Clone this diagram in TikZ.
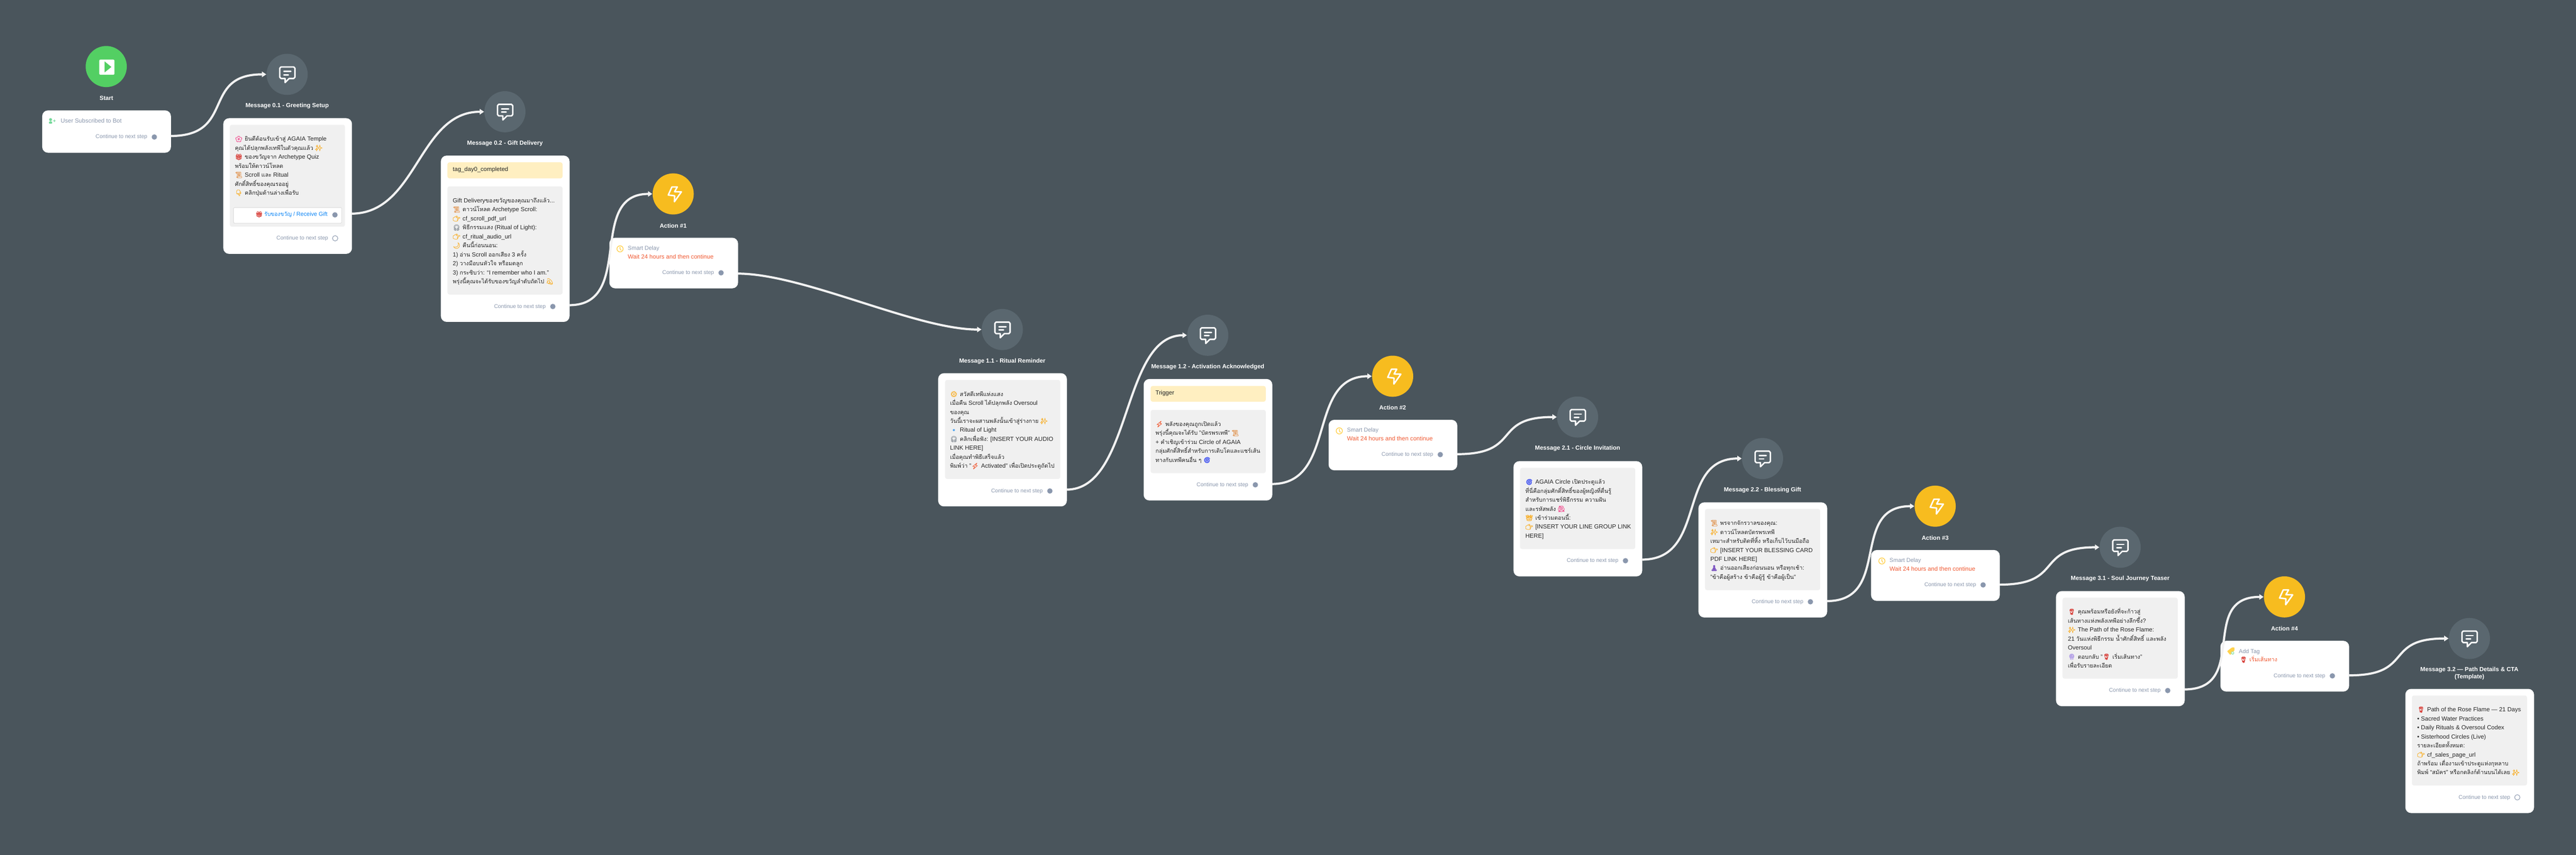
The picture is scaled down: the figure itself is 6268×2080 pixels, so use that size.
\documentclass[tikz,border=0pt]{standalone}
\usepackage{fontspec}
\setmainfont{Liberation Sans}
\newfontfamily\thaifont[Script=Thai,Scale=0.95]{Loma}
\newfontfamily\emofont[FakeBold=2]{Noto Emoji}
\usetikzlibrary{arrows.meta}
\definecolor{bgcol}{HTML}{4A555C}
\definecolor{msgcol}{HTML}{5A676F}
\definecolor{actcol}{HTML}{F7BC1F}
\definecolor{startcol}{HTML}{53CF63}
\definecolor{flowcol}{HTML}{F2F2F2}
\definecolor{boxcol}{HTML}{F0F0F0}
\definecolor{tagcol}{HTML}{FFEFC1}
\definecolor{mutecol}{HTML}{8A97AD}
\definecolor{redcol}{HTML}{F05A33}
\definecolor{linkcol}{HTML}{0A84F5}
\definecolor{clockcol}{HTML}{FFC92E}
\definecolor{emopink}{HTML}{F0609A}
\definecolor{emogold}{HTML}{F8B02C}
\definecolor{emored}{HTML}{D8403A}
\definecolor{emotan}{HTML}{E3A46C}
\definecolor{emogrey}{HTML}{9AA0A6}
\definecolor{emoblue}{HTML}{4DA3F0}
\definecolor{emoind}{HTML}{4B5CF0}
\definecolor{emolil}{HTML}{B9A7E8}
\definecolor{emopur}{HTML}{7E57C2}
\newcommand{\thai}[1]{{\thaifont #1}}
\newcommand{\emo}[2]{\makebox[6.83pt][l]{\textcolor{#1}{\emofont #2}}}
% one "Continue to next step" row of a card
\newcommand{\nextrow}[4][dotfull]{%
  \node[nextlabel] (#2next) at (#3,#4) {Continue to next step};
  \node[#1] (#2dot) at ([xshift=0.165cm]#2next.east) {};}
\tikzset{
  msgnode/.style={circle,fill=msgcol,minimum size=1cm,inner sep=0pt},
  actnode/.style={circle,fill=actcol,minimum size=1cm,inner sep=0pt},
  startnode/.style={circle,fill=startcol,minimum size=1cm,inner sep=0pt},
  steplabel/.style={font=\fontsize{4.13}{4.7}\selectfont\bfseries,text=white,align=center,inner sep=0pt},
  card/.style={fill=white,rounded corners=0.14cm,minimum width=3.13cm,anchor=north west,inner sep=0pt},
  greybox/.style={fill=boxcol,rounded corners=0.05cm,minimum width=2.8cm,anchor=north west,inner sep=0pt},
  yellowbox/.style={fill=tagcol,rounded corners=0.05cm,minimum width=2.8cm,anchor=north west,inner sep=0pt},
  bodytext/.style={font=\fontsize{4.13}{6.22}\selectfont,text=black!85,align=left,anchor=north west,inner sep=0pt},
  tagtext/.style={font=\fontsize{4.13}{6.22}\selectfont,text=black!85,anchor=west,inner sep=0pt,text height=3pt,text depth=1pt},
  nextlabel/.style={font=\fontsize{3.78}{5}\selectfont,text=mutecol,anchor=east,inner sep=0pt,text height=2.9pt,text depth=0.8pt},
  mutetext/.style={font=\fontsize{3.95}{5}\selectfont,text=mutecol,anchor=west,inner sep=0pt,text height=3pt,text depth=0.9pt},
  redtext/.style={font=\fontsize{4.13}{5}\selectfont,text=redcol,anchor=west,inner sep=0pt,text height=3pt,text depth=0.9pt},
  dotfull/.style={circle,fill=mutecol,minimum size=0.13cm,inner sep=0pt},
  dotopen/.style={circle,draw=mutecol,fill=white,line width=0.35pt,minimum size=0.13cm,inner sep=0pt},
  flow/.style={draw=flowcol,line width=1.5pt,->},
  chatico/.pic={
    \draw[white,line width=1pt,line join=round] (-15,-18) -- (16,-18) to[out=0,in=-90] (19,-15) -- (19,7) to[out=90,in=0] (16,10)
      -- (5,10) -- (-5,20) -- (-5,10) -- (-15,10) to[out=180,in=90] (-18,7) -- (-18,-15) to[out=-90,in=180] cycle;
    \draw[white,line width=1pt,line cap=round] (-8,-7) -- (9,-7) (-8,1) -- (3,1);},
  boltico/.pic={
    \draw[white,line width=1pt,line join=round] (-3,-17) -- (10,-17) -- (3.5,-5.5) -- (20,-5) -- (3,19) -- (3.5,4.5) -- (-12,2.7) -- cycle;},
  playico/.pic={
    \fill[white,rounded corners=0.03cm] (-17,-17) rectangle (20,20);
    \fill[startcol] (-4,-12.5) -- (12.6,1) -- (-4,14.3) -- cycle;},
  clockico/.pic={
    \draw[clockcol,line width=0.4pt] (0,0) circle (7.5);
    \draw[clockcol,line width=0.4pt,line cap=round] (0,-4.5) -- (0,0) -- (2.8,3.5);},
  userico/.pic={
    \fill[green!45!teal!55] (-4.5,-3) circle (3.6);
    \fill[green!45!teal!55,rounded corners=0.015cm] (-8.5,7) -- (-8.5,3) -- (-6,1) -- (-3,1) -- (-0.5,3) -- (-0.5,7) -- cycle;
    \draw[green!45!teal!55,line width=0.35pt] (2,0) -- (8,0) (5,-3) -- (5,3);},
  tagico/.pic={
    \fill[orange!50!yellow!70,rounded corners=0.012cm] (-9.5,0) -- (2,-9) -- (8.5,-9) -- (8.5,-2) -- (-2,9) -- cycle;
    \fill[green!50!teal!35] (4,4.4) circle (4);
    \draw[white,line width=0.3pt] (2,4.4) -- (6,4.4) (4,2.4) -- (4,6.4);},
}
\begin{document}
\begin{tikzpicture}[x=0.01cm,y=-0.01cm,>={Triangle[length=3pt,width=3.7pt]}]
	\useasboundingbox (0,0) rectangle (6268,2080);
	\fill[bgcol] (-5,-5) rectangle (6273,2085);
	% Start
	\node[startnode] (start) at (258.5,162) {};
	\pic at (start) {playico};
	\node[steplabel] (startlabel) at (259,239) {Start};
	\node[card,minimum height=1.03cm] (startcard) at (102,268) {};
	\pic at (127.5,294) {userico};
	\node[mutetext,font=\fontsize{4.1}{5}\selectfont] (starttext) at (147,295) {User Subscribed to Bot};
	\nextrow{start}{359}{333.5}
	\coordinate (startout) at (415,331);
	% Message 0.1
	\node[msgnode] (msga) at (698.7,181) {};
	\pic at (msga) {chatico};
	\node[steplabel] (msgalabel) at (698.7,258) {Message 0.1 - Greeting Setup};
	\node[card,minimum height=3.3cm] (msgacard) at (542.6,287) {};
	\node[greybox,minimum height=2.48cm] (msgabox) at (558.6,303) {};
	\node[bodytext] (msgatext) at (571,327.25) {\strut\emo{emopink}{🌸}\thai{ยินดีต้อนรับเข้าสู่} AGAIA Temple\\
		\thai{คุณได้ปลุกพลังเทพีในตัวคุณแล้ว} \emo{emogold}{✨}\\
		\emo{emored}{🎁}\thai{ของขวัญจาก} Archetype Quiz\\
		\thai{พร้อมให้ดาวน์โหลด}\\
		\emo{emotan}{📜}Scroll \thai{และ} Ritual\\
		\thai{ศักดิ์สิทธิ์ของคุณรออยู่}\\
		\emo{emogold}{👇}\thai{คลิกปุ่มด้านล่างเพื่อรับ}};
	\node[fill=white,draw=black!12,line width=0.4pt,rounded corners=0.02cm,minimum width=2.63cm,minimum height=0.38cm,anchor=north west,inner sep=0pt] (msgabtn) at (567.5,504.5) {};
	\node[tagtext,text=linkcol,font=\fontsize{3.95}{5}\selectfont] (msgabtntext) at (621,523) {\emo{emored}{🎁}\hspace{-0.7pt}\thai{รับของขวัญ} / Receive Gift};
	\node[dotfull] (msgabtndot) at (815,523) {};
	\nextrow[dotopen]{msga}{799}{580}
	\coordinate (msgaout) at (855,520);
	% Message 0.2
	\node[msgnode] (msgb) at (1228.6,272) {};
	\pic at (msgb) {chatico};
	\node[steplabel] (msgblabel) at (1228.6,349) {Message 0.2 - Gift Delivery};
	\node[card,minimum height=4.045cm] (msgbcard) at (1072,378) {};
	\node[yellowbox,minimum height=0.39cm] (msgbtag) at (1088,394.4) {};
	\node[tagtext] (msgbtagtext) at (1101,413.5) {tag\_day0\_completed};
	\node[greybox,minimum height=2.63cm] (msgbbox) at (1088,453) {};
	\node[bodytext] (msgbtext) at (1101,477.25) {\strut Gift Delivery\thai{ของขวัญของคุณมาถึงแล้ว}...\\
		\emo{emotan}{📜}\thai{ดาวน์โหลด} Archetype Scroll:\\
		\emo{emogold}{👉}cf\_scroll\_pdf\_url\\
		\emo{emogrey}{🎧}\thai{พิธีกรรมแสง} (Ritual of Light):\\
		\emo{emogold}{👉}cf\_ritual\_audio\_url\\
		\emo{emogold}{🌙}\thai{คืนนี้ก่อนนอน}:\\
		1) \thai{อ่าน} Scroll \thai{ออกเสียง} 3 \thai{ครั้ง}\\
		2) \thai{วางมือบนหัวใจ หรือมดลูก}\\
		3) \thai{กระซิบว่า}: “I remember who I am.”\\
		\thai{พรุ่งนี้คุณจะได้รับของขวัญลำดับถัดไป} \emo{emogold}{💫}};
	\nextrow{msgb}{1328.6}{746}
	\coordinate (msgbout) at (1385.7,742.7);
	% Action #1
	\node[actnode] (acta) at (1638,472) {};
	\pic at (acta) {boltico};
	\node[steplabel] (actalabel) at (1638,549) {Action \#1};
	\node[card,minimum height=1.23cm] (actacard) at (1482,578) {};
	\pic at (1508.7,605.7) {clockico};
	\node[mutetext] (actadelay) at (1527,605) {Smart Delay};
	\node[redtext] (actawait) at (1527,626) {Wait 24 hours and then continue};
	\nextrow{acta}{1738}{664}
	\coordinate (actaout) at (1795,666);
	% Message 1.1
	\node[msgnode] (msgc) at (2438.8,802) {};
	\pic at (msgc) {chatico};
	\node[steplabel] (msgclabel) at (2438.8,879) {Message 1.1 - Ritual Reminder};
	\node[card,minimum height=3.24cm] (msgccard) at (2282,907.7) {};
	\node[greybox,minimum height=2.41cm] (msgcbox) at (2299,924) {};
	\node[bodytext] (msgctext) at (2311,948.25) {\strut\emo{emogold}{🌞}\thai{สวัสดีเทพีแห่งแสง}\\
		\thai{เมื่อคืน} Scroll \thai{ได้ปลุกพลัง} Oversoul\\
		\thai{ของคุณ}\\
		\thai{วันนี้เราจะผสานพลังนั้นเข้าสู่ร่างกาย} \emo{emogold}{✨}\\
		\emo{emoblue}{🔹}Ritual of Light\\
		\emo{emogrey}{🎧}\thai{คลิกเพื่อฟัง}: [INSERT YOUR AUDIO\\
		LINK HERE]\\
		\thai{เมื่อคุณทำพิธีเสร็จแล้ว}\\
		\thai{พิมพ์ว่า} "\emo{redcol}{⚡}Activated" \thai{เพื่อเปิดประตูถัดไป}};
	\nextrow{msgc}{2538}{1195}
	\coordinate (msgcout) at (2595,1191.7);
	% Message 1.2
	\node[msgnode] (msgd) at (2938.8,816) {};
	\pic at (msgd) {chatico};
	\node[steplabel] (msgdlabel) at (2938.8,893) {Message 1.2 - Activation Acknowledged};
	\node[card,minimum height=2.956cm] (msgdcard) at (2782,921.7) {};
	\node[yellowbox,minimum height=0.383cm] (msgdtag) at (2799,938.7) {};
	\node[tagtext] (msgdtagtext) at (2811,957.7) {Trigger};
	\node[greybox,minimum height=1.537cm] (msgdbox) at (2799,997) {};
	\node[bodytext] (msgdtext) at (2811,1021.25) {\strut\emo{redcol}{⚡}\thai{พลังของคุณถูกเปิดแล้ว}\\
		\thai{พรุ่งนี้คุณจะได้รับ} "\thai{บัตรพรเทพี}" \emo{emotan}{📜}\\
		+ \thai{คำเชิญเข้าร่วม} Circle of AGAIA\\
		\thai{กลุ่มศักดิ์สิทธิ์สำหรับการเติบโตและแชร์เส้น}\\
		\thai{ทางกับเทพีคนอื่น ๆ} \emo{emoind}{🌀}};
	\nextrow{msgd}{3038}{1180}
	\coordinate (msgdout) at (3095,1178);
	% Action #2
	\node[actnode] (actb) at (3388.6,915.7) {};
	\pic at (actb) {boltico};
	\node[steplabel] (actblabel) at (3388.6,992) {Action \#2};
	\node[card,minimum height=1.23cm] (actbcard) at (3232,1021) {};
	\pic at (3258.8,1048.7) {clockico};
	\node[mutetext] (actbdelay) at (3277,1048) {Smart Delay};
	\node[redtext] (actbwait) at (3277,1069) {Wait 24 hours and then continue};
	\nextrow{actb}{3488}{1106.4}
	\coordinate (actbout) at (3545,1105.4);
	% Message 2.1
	\node[msgnode] (msge) at (3838.6,1015) {};
	\pic at (msge) {chatico};
	\node[steplabel] (msgelabel) at (3838.6,1091.8) {Message 2.1 - Circle Invitation};
	\node[card,minimum height=2.803cm] (msgecard) at (3682,1121.7) {};
	\node[greybox,minimum height=1.977cm] (msgebox) at (3698,1138) {};
	\node[bodytext] (msgetext) at (3711,1162) {\strut\emo{emoind}{🌀}AGAIA Circle \thai{เปิดประตูแล้ว}\\
		\thai{ที่นี่คือกลุ่มศักดิ์สิทธิ์ของผู้หญิงที่ตื่นรู้}\\
		\thai{สำหรับการแชร์พิธีกรรม ความฝัน}\\
		\thai{และรหัสพลัง} \emo{emopink}{🌺}\\
		\emo{emogold}{👑}\thai{เข้าร่วมตอนนี้}:\\
		\emo{emogold}{👉}[INSERT YOUR LINE GROUP LINK\\
		HERE]};
	\nextrow{msge}{3938.6}{1364.7}
	\coordinate (msgeout) at (3995.7,1362);
	% Message 2.2
	\node[msgnode] (msgf) at (4288.6,1116) {};
	\pic at (msgf) {chatico};
	\node[steplabel] (msgflabel) at (4288.6,1193) {Message 2.2 - Blessing Gift};
	\node[card,minimum height=2.8cm] (msgfcard) at (4132,1222) {};
	\node[greybox,minimum height=1.977cm] (msgfbox) at (4148,1238) {};
	\node[bodytext] (msgftext) at (4161,1262.25) {\strut\emo{emotan}{📜}\thai{พรจากจักรวาลของคุณ}:\\
		\emo{emogold}{✨}\thai{ดาวน์โหลดบัตรพรเทพี}\\
		\thai{เหมาะสำหรับติดที่หิ้ง หรือเก็บไว้บนมือถือ}\\
		\emo{emogold}{👉}[INSERT YOUR BLESSING CARD\\
		PDF LINK HERE]\\
		\emo{emopur}{🧘}\thai{อ่านออกเสียงก่อนนอน หรือทุกเช้า}:\\
		"\thai{ข้าคือผู้สร้าง ข้าคือผู้รู้ ข้าคือผู้เป็น}"};
	\nextrow{msgf}{4388.6}{1464.7}
	\coordinate (msgfout) at (4445,1463);
	% Action #3
	\node[actnode] (actc) at (4708.7,1232) {};
	\pic at (actc) {boltico};
	\node[steplabel] (actclabel) at (4708.7,1309) {Action \#3};
	\node[card,minimum height=1.238cm] (actccard) at (4552,1338) {};
	\pic at (4579,1365.4) {clockico};
	\node[mutetext] (actcdelay) at (4597,1365) {Smart Delay};
	\node[redtext] (actcwait) at (4597,1386) {Wait 24 hours and then continue};
	\nextrow{actc}{4808.8}{1423.6}
	\coordinate (actcout) at (4865,1423);
	% Message 3.1
	\node[msgnode] (msgg) at (5158.8,1332) {};
	\pic at (msgg) {chatico};
	\node[steplabel] (msgglabel) at (5158.8,1409) {Message 3.1 - Soul Journey Teaser};
	\node[card,minimum height=2.8cm] (msggcard) at (5002,1438) {};
	\node[greybox,minimum height=1.97cm] (msggbox) at (5018,1454) {};
	\node[bodytext] (msggtext) at (5031,1478.25) {\strut\emo{emored}{🌹}\thai{คุณพร้อมหรือยังที่จะก้าวสู่}\\
		\thai{เส้นทางแห่งพลังเทพีอย่างลึกซึ้ง}?\\
		\emo{emogold}{✨}The Path of the Rose Flame:\\
		21 \thai{วันแห่งพิธีกรรม น้ำศักดิ์สิทธิ์ และพลัง}\\
		Oversoul\\
		\emo{emolil}{🔮}\thai{ตอบกลับ} "\emo{emored}{🌹}\thai{เริ่มเส้นทาง}"\\
		\thai{เพื่อรับรายละเอียด}};
	\nextrow{msgg}{5258}{1680.7}
	\coordinate (msggout) at (5315,1678);
	% Action #4
	\node[actnode] (actd) at (5558.6,1452.8) {};
	\pic at (actd) {boltico};
	\node[steplabel] (actdlabel) at (5558.6,1530) {Action \#4};
	\node[card,minimum height=1.234cm] (actdcard) at (5402,1559) {};
	\pic at (5428.5,1585) {tagico};
	\node[mutetext] (actdadd) at (5447,1586) {Add Tag};
	\node[redtext] (actdtag) at (5449,1607) {\emo{emored}{🌹}\thai{เริ่มเส้นทาง}};
	\nextrow{actd}{5658.6}{1645}
	\coordinate (actdout) at (5715.7,1643.8);
	% Message 3.2
	\node[msgnode] (msgh) at (6008.6,1554) {};
	\pic at (msgh) {chatico};
	\node[steplabel] (msghlabel) at (6008.6,1639) {Message 3.2 — Path Details \& CTA\\(Template)};
	\node[card,minimum height=3.02cm] (msghcard) at (5852,1676) {};
	\node[greybox,minimum height=2.19cm] (msghbox) at (5868,1692) {};
	\node[bodytext] (msghtext) at (5881,1716.25) {\strut\emo{emored}{🌹}Path of the Rose Flame — 21 Days\\
		• Sacred Water Practices\\
		• Daily Rituals \& Oversoul Codex\\
		• Sisterhood Circles (Live)\\
		\thai{รายละเอียดทั้งหมด}:\\
		\emo{emogold}{👉}cf\_sales\_page\_url\\
		\thai{ถ้าพร้อม เดื่องามเข้าประตูแห่งกุหลาบ}\\
		\thai{พิมพ์} “\thai{สมัคร}” \thai{หรือกดลิงก์ด้านบนได้เลย} \emo{emogold}{✨}};
	\nextrow[dotopen]{msgh}{6108.6}{1940.7}
	% connectors
	\draw[flow] (startout) .. controls +(160,0) and +(-160,0) .. (msga.west);
	\draw[flow] (msgaout) .. controls +(160,0) and +(-160,0) .. (msgb.west);
	\draw[flow] (msgbout) .. controls +(160,0) and +(-160,0) .. (acta.west);
	\draw[flow] (actaout) .. controls +(160,0) and +(-160,0) .. (msgc.west);
	\draw[flow] (msgcout) .. controls +(160,0) and +(-160,0) .. (msgd.west);
	\draw[flow] (msgdout) .. controls +(160,0) and +(-160,0) .. (actb.west);
	\draw[flow] (actbout) .. controls +(160,0) and +(-160,0) .. (msge.west);
	\draw[flow] (msgeout) .. controls +(160,0) and +(-160,0) .. (msgf.west);
	\draw[flow] (msgfout) .. controls +(160,0) and +(-160,0) .. (actc.west);
	\draw[flow] (actcout) .. controls +(160,0) and +(-160,0) .. (msgg.west);
	\draw[flow] (msggout) .. controls +(160,0) and +(-160,0) .. (actd.west);
	\draw[flow] (actdout) .. controls +(160,0) and +(-160,0) .. (msgh.west);
\end{tikzpicture}
\end{document}
